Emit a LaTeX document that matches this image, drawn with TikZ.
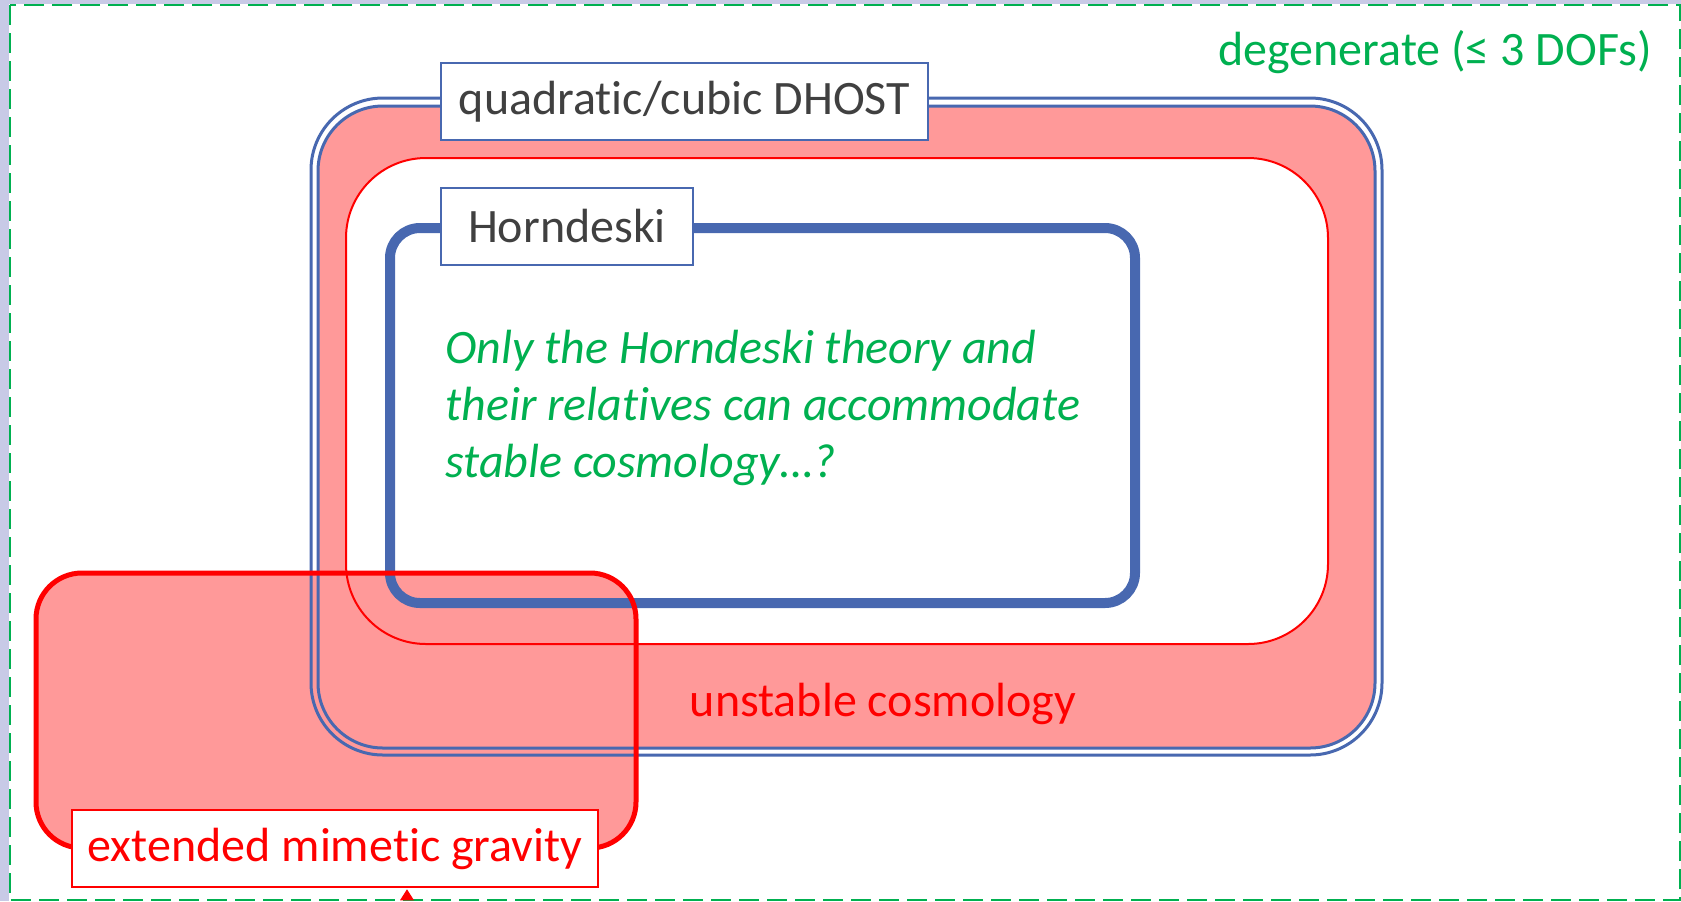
\documentclass[tikz,border=0pt]{standalone}
\usepackage{fontspec}
\setmainfont{Carlito}[Ligatures=NoCommon]
\definecolor{slideblue}{RGB}{72,104,176}
\definecolor{unstablepink}{RGB}{255,153,153}
\definecolor{officegreen}{RGB}{0,176,80}
\definecolor{labelgray}{RGB}{64,64,64}
\definecolor{slidelavender}{RGB}{200,202,230}

\begin{document}
\begin{tikzpicture}[x=0.5pt, y=-0.5pt,
        dhostline/.style={draw=slideblue, line width=1.5pt},
        stableline/.style={draw=red, line width=1pt},
        horndline/.style={draw=slideblue, line width=5pt, rounded corners=15pt},
        mimeticline/.style={draw=red, line width=2.5pt, rounded corners=23pt},
        labelbox/.style={draw, fill=white, rectangle, minimum height=38.5pt, inner sep=0pt, font=\fontsize{24}{28.8}\selectfont},
        every node/.style={inner sep=0pt}
    ]
    \useasboundingbox (0,0) rectangle (1681,901);

    % --- Slide background and degenerate frame ---
    \fill[slidelavender] (0,0) rectangle (1681,901);
    \fill[white] (9,4) rectangle (1681,901);
    \draw[officegreen, line width=1pt, dash pattern=on 10pt off 4pt] (10,5) rectangle (1680,900);

    % --- Fills ---
    \fill[unstablepink, rounded corners=32.5pt] (318,106) rectangle (1375,748);
    \fill[white, rounded corners=40pt] (346,158) rectangle (1328,644);
    \fill[unstablepink, rounded corners=23pt] (36,573) rectangle (636,848);

    % --- DHOST double border ---
    \draw[dhostline, rounded corners=36pt] (311,98) rectangle (1382,755);
    \draw[dhostline, rounded corners=32.5pt] (318,106) rectangle (1375,748);

    % --- Stable region and Horndeski ---
    \draw[stableline, rounded corners=40pt] (346,158) rectangle (1328,644);
    \draw[horndline] (390,228) rectangle (1135,603);

    % --- Extended mimetic gravity ---
    \draw[mimeticline] (36,573) rectangle (636,848);

    % --- Labels ---
    \node[labelbox, draw=slideblue, line width=1pt, minimum width=243.5pt, text=labelgray] (dhost) at (684.5,101.5) {quadratic/cubic DHOST};
    \node[labelbox, draw=slideblue, line width=1pt, minimum width=126pt, text=labelgray] (horndeski) at (567,226.5) {Horndeski};
    \node[labelbox, draw=red, line width=1.25pt, minimum width=263pt, text=red] (mimetic) at (335,848.5) {extended mimetic gravity};
    \fill[red] (mimetic.south) ++(65,12) -- ++(7,-11) -- ++(7,11) -- cycle;

    \node[anchor=base east, text=officegreen, font=\fontsize{24}{28.8}\selectfont] (degenerate) at (1652,65) {degenerate (≤ 3 DOFs)};
    \node[anchor=base, text=red, font=\fontsize{24}{28.8}\selectfont] (unstable) at (883,716) {unstable cosmology};
    \node[anchor=north west, align=left, text=officegreen, font=\fontsize{24}{28.5}\itshape] (question) at (445,330)
        {Only the Horndeski theory and\\their relatives can accommodate\\stable cosmology…?};

\end{tikzpicture}
\end{document}
